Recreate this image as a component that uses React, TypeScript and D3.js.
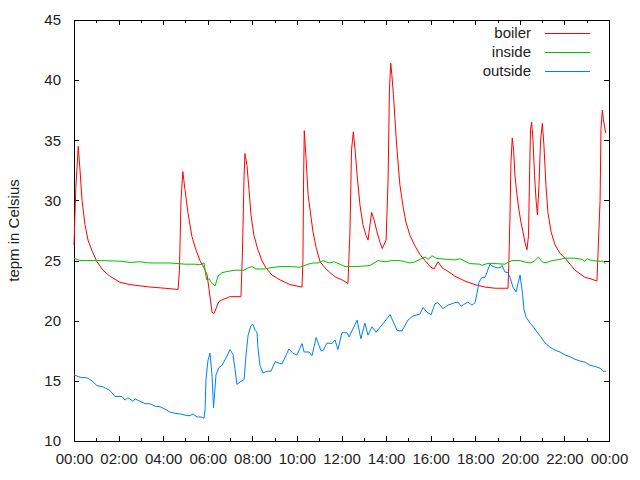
import React, { useEffect, useRef } from 'react';
import * as d3 from 'd3';

// hours since midnight, temperature in Celsius
const boiler: [number, number][] = [
  [0, 26.3], [0.08, 31.0], [0.19, 34.5], [0.27, 32.5], [0.36, 30.0], [0.49, 28.0], [0.63, 26.7],
  [0.81, 25.8], [1.03, 24.9], [1.3, 24.2], [1.61, 23.7], [2.06, 23.2], [2.51, 23.0], [2.96, 22.9],
  [3.41, 22.8], [4.08, 22.7], [4.67, 22.6], [4.73, 24.2], [4.8, 30.0], [4.88, 32.4], [4.98, 30.9],
  [5.11, 29.0], [5.29, 27.0], [5.47, 25.9], [5.65, 25.0], [5.83, 24.4], [5.97, 23.8], [6.06, 22.6],
  [6.15, 21.3], [6.19, 20.7], [6.28, 20.6], [6.37, 21.0], [6.5, 21.6], [6.73, 21.8], [7.0, 22.0],
  [7.49, 22.0], [7.56, 25.9], [7.63, 32.1], [7.67, 33.9], [7.76, 32.9], [7.85, 30.9], [7.94, 28.8],
  [8.07, 27.1], [8.25, 25.9], [8.43, 25.0], [8.61, 24.4], [8.88, 23.8], [9.24, 23.4], [9.69, 23.0],
  [10.23, 22.8], [10.27, 25.0], [10.3, 31.7], [10.33, 35.8], [10.41, 33.5], [10.5, 30.5], [10.59, 29.2],
  [10.72, 27.4], [10.86, 26.1], [11.04, 24.9], [11.26, 24.4], [11.48, 24.0], [11.75, 23.6], [12.02, 23.4],
  [12.29, 23.1], [12.38, 27.5], [12.45, 34.2], [12.53, 35.7], [12.61, 34.2], [12.7, 32.1], [12.83, 29.6],
  [12.96, 28.0], [13.1, 27.1], [13.19, 26.7], [13.35, 29.0], [13.46, 28.4], [13.59, 27.4], [13.73, 26.5],
  [13.83, 26.0], [14.0, 26.7], [14.09, 31.7], [14.15, 39.2], [14.21, 41.4], [14.26, 40.4], [14.33, 38.8],
  [14.4, 36.7], [14.49, 34.2], [14.62, 31.3], [14.76, 29.5], [14.89, 28.2], [15.07, 27.1], [15.3, 26.2],
  [15.52, 25.5], [15.75, 25.0], [15.97, 24.5], [16.15, 24.3], [16.33, 24.9], [16.51, 24.4], [16.78, 24.1],
  [17.09, 23.7], [17.54, 23.3], [17.99, 23.0], [18.44, 22.8], [18.89, 22.7], [19.47, 22.7], [19.51, 25.0],
  [19.56, 28.8], [19.6, 33.1], [19.66, 35.2], [19.72, 34.2], [19.78, 32.1], [19.87, 30.5], [19.96, 29.2],
  [20.05, 28.2], [20.14, 27.4], [20.23, 26.5], [20.32, 25.9], [20.39, 27.1], [20.44, 32.5], [20.48, 35.9],
  [20.53, 36.5], [20.59, 35.0], [20.66, 32.1], [20.73, 30.0], [20.79, 28.8], [20.86, 31.3], [20.93, 35.0],
  [21.01, 36.4], [21.08, 34.6], [21.17, 31.3], [21.26, 29.0], [21.4, 27.4], [21.58, 26.3], [21.8, 25.6],
  [22.03, 25.2], [22.25, 24.7], [22.47, 24.2], [22.7, 23.9], [22.92, 23.6], [23.15, 23.5], [23.46, 23.3],
  [23.53, 26.7], [23.6, 30.0], [23.64, 35.9], [23.7, 37.5], [23.75, 36.7], [23.85, 35.6],
];

const inside: [number, number][] = [
  [0, 25.2], [0.27, 25.0], [1.17, 25.0], [2.06, 24.95], [2.51, 24.85], [2.96, 24.9], [3.41, 24.8],
  [3.86, 24.8], [4.31, 24.8], [4.98, 24.7], [5.43, 24.7], [5.65, 24.65], [5.83, 24.8], [5.95, 23.4],
  [6.06, 23.5], [6.19, 23.1], [6.33, 22.9], [6.46, 23.7], [6.64, 24.0], [6.91, 24.1], [7.22, 24.2],
  [7.62, 24.2], [7.81, 24.4], [7.99, 24.5], [8.16, 24.3], [8.57, 24.3], [8.79, 24.4], [9.24, 24.5],
  [9.69, 24.5], [10.14, 24.45], [10.5, 24.7], [10.72, 24.8], [10.95, 24.8], [11.17, 25.0], [11.3, 24.9],
  [11.48, 24.8], [11.66, 24.9], [11.93, 24.7], [12.16, 24.5], [12.61, 24.5], [13.05, 24.55], [13.28, 24.6],
  [13.64, 25.0], [13.95, 24.9], [14.26, 25.0], [14.62, 25.0], [14.85, 24.9], [15.07, 24.8], [15.3, 24.9],
  [15.52, 25.1], [15.75, 25.3], [15.88, 25.1], [16.06, 25.4], [16.24, 25.2], [16.42, 25.15], [16.78, 25.1],
  [17.09, 25.05], [17.32, 25.15], [17.54, 24.95], [17.76, 24.75], [18.21, 24.7], [18.3, 24.6], [18.53, 24.75],
  [18.89, 24.75], [19.33, 24.7], [19.51, 24.9], [19.65, 25.0], [20.01, 25.0], [20.28, 24.85], [20.5, 24.8],
  [20.68, 25.0], [20.83, 25.3], [21.0, 24.9], [21.17, 24.8], [21.35, 24.95], [21.8, 25.1], [22.03, 25.2],
  [22.47, 25.2], [22.79, 25.1], [22.92, 24.95], [23.01, 25.15], [23.24, 25.0], [23.51, 24.95], [23.73, 24.95],
  [23.85, 24.7],
];

const outside: [number, number][] = [
  [0, 15.5], [0.27, 15.3], [0.58, 15.25], [0.81, 15.0], [1.03, 14.6], [1.3, 14.5], [1.61, 14.2],
  [1.84, 13.7], [2.15, 13.7], [2.29, 13.4], [2.42, 13.6], [2.65, 13.3], [2.74, 13.5], [2.96, 13.3],
  [3.19, 13.1], [3.41, 13.1], [3.63, 12.9], [3.86, 12.85], [4.08, 12.65], [4.31, 12.4], [4.53, 12.3],
  [4.76, 12.25], [4.98, 12.15], [5.2, 12.1], [5.34, 12.25], [5.52, 12.0], [5.7, 12.0], [5.83, 11.9],
  [5.88, 12.6], [5.92, 15.1], [6.01, 16.7], [6.1, 17.3], [6.19, 15.5], [6.26, 12.75], [6.37, 15.5],
  [6.5, 16.1], [6.64, 16.3], [6.82, 16.9], [7.0, 17.6], [7.13, 17.2], [7.22, 16.0], [7.31, 14.7],
  [7.45, 14.9], [7.63, 15.1], [7.72, 17.2], [7.81, 18.8], [7.94, 19.6], [8.03, 19.7], [8.12, 19.2],
  [8.21, 19.05], [8.25, 17.8], [8.34, 16.3], [8.48, 15.65], [8.66, 15.8], [8.84, 15.8], [9.02, 16.6],
  [9.15, 16.5], [9.33, 16.4], [9.64, 17.65], [9.82, 17.3], [10.0, 17.15], [10.23, 18.1], [10.32, 17.4],
  [10.54, 17.4], [10.68, 17.1], [10.86, 18.6], [11.08, 17.5], [11.17, 17.5], [11.35, 18.15], [11.57, 18.1],
  [11.71, 18.4], [11.84, 17.6], [12.02, 19.0], [12.25, 19.0], [12.34, 18.65], [12.7, 20.05], [12.87, 18.5],
  [13.05, 19.8], [13.19, 18.8], [13.37, 19.5], [13.55, 19.05], [14.18, 20.5], [14.49, 19.2], [14.71, 19.15],
  [14.98, 20.05], [15.21, 20.4], [15.52, 20.55], [15.66, 21.1], [15.84, 20.7], [16.02, 20.5], [16.19, 21.4],
  [16.33, 21.5], [16.55, 21.0], [16.78, 21.3], [17.09, 21.5], [17.23, 21.55], [17.36, 21.2], [17.45, 21.3],
  [17.67, 21.55], [17.85, 21.3], [17.99, 21.5], [18.08, 22.3], [18.17, 23.2], [18.3, 23.6], [18.44, 23.6],
  [18.53, 24.05], [18.66, 24.7], [18.8, 24.5], [18.98, 24.4], [19.11, 24.4], [19.2, 24.6], [19.33, 24.05],
  [19.47, 24.0], [19.56, 23.6], [19.69, 22.8], [19.83, 22.4], [19.92, 23.1], [20.01, 23.8], [20.1, 22.55],
  [20.19, 20.9], [20.28, 20.3], [20.46, 19.8], [20.64, 19.4], [20.77, 19.05], [20.95, 18.65], [21.13, 18.15],
  [21.35, 17.8], [21.58, 17.55], [21.8, 17.4], [22.03, 17.15], [22.25, 17.0], [22.47, 16.8], [22.7, 16.65],
  [22.92, 16.55], [23.15, 16.3], [23.37, 16.2], [23.6, 16.05], [23.73, 15.8], [23.87, 15.8],
];

const seriesNames = ['boiler', 'inside', 'outside'];
const seriesColors = ['#ff0000', '#00c000', '#0080ff'];
const hourTicks = [0, 2, 4, 6, 8, 10, 12, 14, 16, 18, 20, 22, 24];
const hourMinorTicks = [1, 3, 5, 7, 9, 11, 13, 15, 17, 19, 21, 23];
const tempTicks = [10, 15, 20, 25, 30, 35, 40, 45];
const yTitle = 'tepm in Celsius';

const FONT = '"Liberation Sans", Arial, sans-serif';

const App = () => {
  const svgRef = useRef<SVGSVGElement>(null);

  useEffect(() => {
    const svg = d3.select(svgRef.current);
    svg.selectAll('*').remove();

    const margin = { top: 20, right: 31, bottom: 39, left: 74 };
    const width = 640, height = 480;

    const x = d3.scaleLinear().domain([0, 24]).range([margin.left, width - margin.right]);
    const y = d3.scaleLinear().domain([10, 45]).range([height - margin.bottom, margin.top]);

    const fmtHour = (h: number) => String(h % 24).padStart(2, '0') + ':00';

    const styleAxis = (g: any) => {
      g.select('.domain').remove();
      g.selectAll('line').attr('stroke', '#000').attr('shape-rendering', 'crispEdges');
      g.attr('font-family', FONT).attr('font-size', 15);
      g.selectAll('text').attr('fill', '#222');
    };

    // bottom + top, major and minor ticks
    svg.append('g')
      .attr('transform', `translate(0,${y(10)})`)
      .call(d3.axisBottom(x).tickValues(hourTicks).tickSizeInner(-5).tickSizeOuter(0).tickPadding(12).tickFormat(d => fmtHour(+d)))
      .call(styleAxis);
    svg.append('g')
      .attr('transform', `translate(0,${y(10)})`)
      .call(d3.axisBottom(x).tickValues(hourMinorTicks).tickSizeInner(-3).tickSizeOuter(0).tickFormat(() => ''))
      .call(styleAxis);
    svg.append('g')
      .attr('transform', `translate(0,${y(45)})`)
      .call(d3.axisTop(x).tickValues(hourTicks).tickSizeInner(-5).tickSizeOuter(0).tickFormat(() => ''))
      .call(styleAxis);
    svg.append('g')
      .attr('transform', `translate(0,${y(45)})`)
      .call(d3.axisTop(x).tickValues(hourMinorTicks).tickSizeInner(-3).tickSizeOuter(0).tickFormat(() => ''))
      .call(styleAxis);

    // left + right
    svg.append('g')
      .attr('transform', `translate(${x(0)},0)`)
      .call(d3.axisLeft(y).tickValues(tempTicks).tickSizeInner(-5).tickSizeOuter(0).tickPadding(13).tickFormat(d3.format('d')))
      .call(styleAxis);
    svg.append('g')
      .attr('transform', `translate(${x(24)},0)`)
      .call(d3.axisRight(y).tickValues(tempTicks).tickSizeInner(-5).tickSizeOuter(0).tickFormat(() => ''))
      .call(styleAxis);

    // border
    svg.append('rect')
      .attr('x', x(0)).attr('y', y(45))
      .attr('width', x(24) - x(0)).attr('height', y(10) - y(45))
      .attr('fill', 'none').attr('stroke', '#000').attr('shape-rendering', 'crispEdges');

    const line = d3.line<[number, number]>().x(d => x(d[0])).y(d => y(d[1]));

    [boiler, inside, outside].forEach((data, i) => {
      svg.append('path')
        .datum(data)
        .attr('d', line)
        .attr('fill', 'none')
        .attr('stroke', seriesColors[i])
        .attr('stroke-width', 1);
    });

    // legend
    const legend = svg.append('g').attr('font-family', FONT).attr('font-size', 15);
    seriesNames.forEach((name, i) => {
      const ly = 33 + i * 19;
      legend.append('text')
        .attr('x', 531).attr('y', ly + 5)
        .attr('text-anchor', 'end')
        .attr('fill', '#222')
        .text(name);
      legend.append('line')
        .attr('x1', 545).attr('x2', 590)
        .attr('y1', ly + 0.5).attr('y2', ly + 0.5)
        .attr('stroke', seriesColors[i]);
    });

    svg.append('text')
      .attr('transform', `translate(19,${(y(10) + y(45)) / 2}) rotate(-90)`)
      .attr('text-anchor', 'middle')
      .attr('font-family', FONT)
      .attr('font-size', 15)
      .attr('fill', '#222')
      .text(yTitle);
  }, []);

  return (
    <svg
      ref={svgRef}
      width={640}
      height={480}
      style={{ position: 'absolute', left: 0, top: 0, background: '#fff' }}
    />
  );
};

export default App;
